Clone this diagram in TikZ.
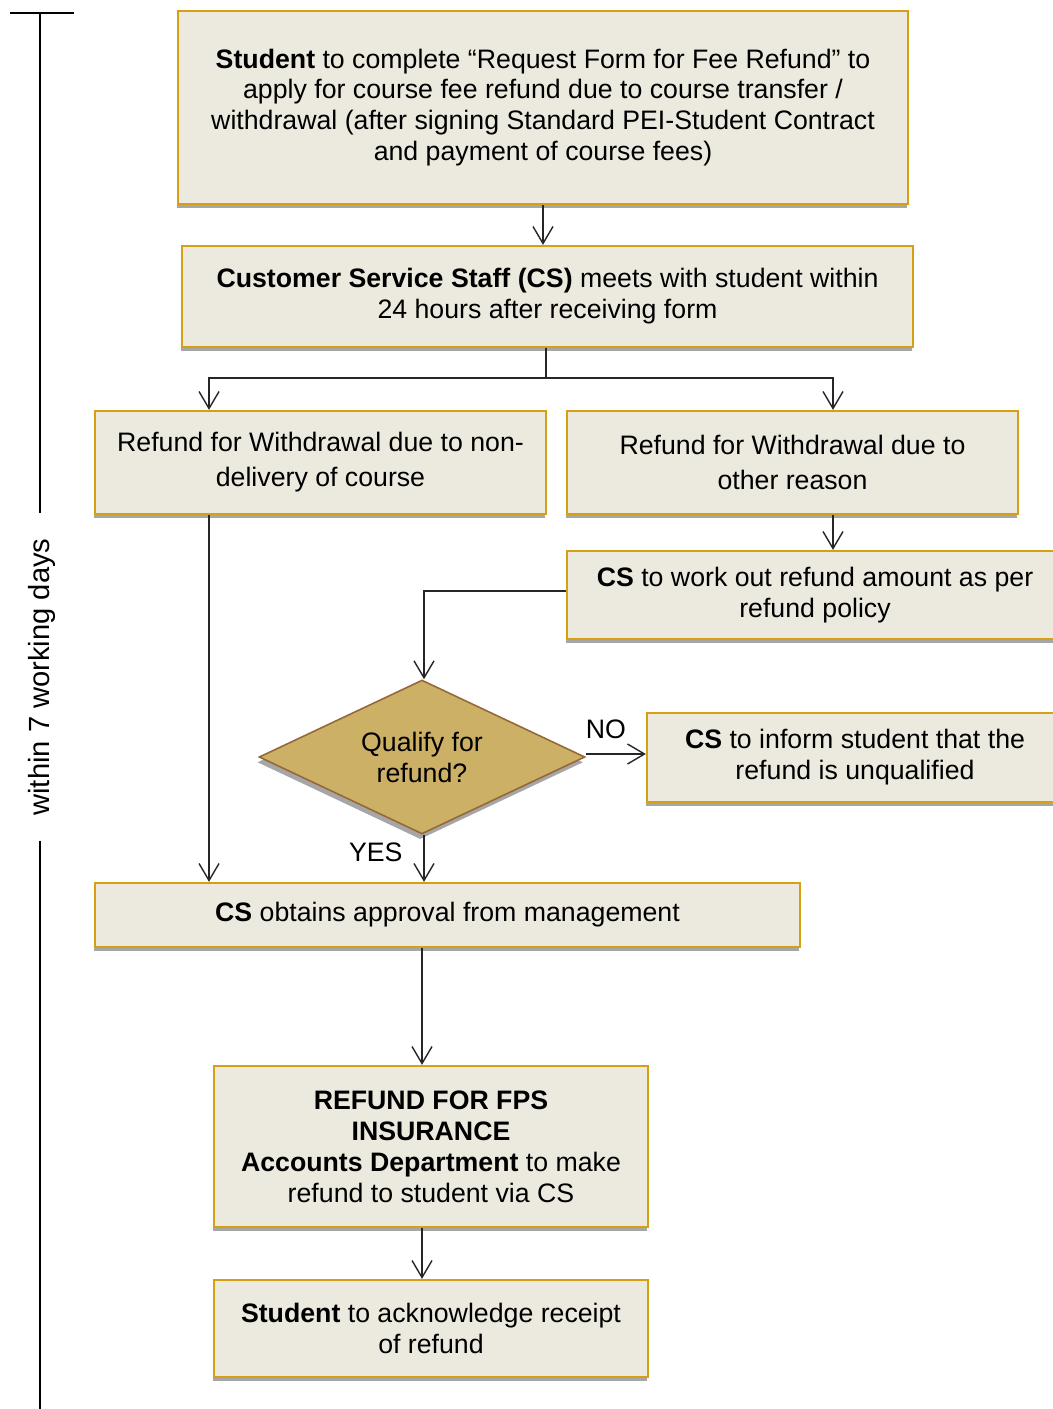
\documentclass[tikz,border=0pt]{standalone}
\usepackage{fontspec}
\setmainfont{Liberation Sans}
\usetikzlibrary{arrows.meta,shapes.geometric,shadows}
\definecolor{boxfill}{RGB}{236,234,223}
\definecolor{boxline}{RGB}{214,160,20}
\definecolor{boxshade}{RGB}{166,166,166}
\definecolor{qfill}{RGB}{204,176,102}
\definecolor{qline}{RGB}{150,104,56}
\definecolor{linkgray}{RGB}{38,38,38}
\tikzset{
  stepbox/.style={draw=boxline,line width=1.3pt,fill=boxfill,align=center,inner sep=0pt,
    drop shadow={shadow xshift=-0.6pt,shadow yshift=-2.4pt,fill=boxshade,opacity=1}},
  askbox/.style={diamond,shape aspect=2,draw=qline,line width=0.9pt,fill=qfill,align=center,inner sep=0pt,
    drop shadow={shadow xshift=-1pt,shadow yshift=-3pt,fill=boxshade,opacity=1}},
  link/.style={draw=linkgray,line width=0.8pt},
  timeline/.style={draw=black,line width=1.1pt}
}
\begin{document}
\begin{tikzpicture}[x=0.02cm,y=-0.02cm,>={Straight Barb[length=0.34cm,width=0.4cm]},
  font=\fontsize{15.2}{17.6}\selectfont]
  \useasboundingbox (0,0) rectangle (1052,1409);
  \node[stepbox,minimum width=14.6cm,minimum height=3.86cm] (req) at (543,107.5)
    {\textbf{Student} to complete “Request Form for Fee Refund” to\\apply for course fee refund due to course transfer /\\withdrawal (after signing Standard PEI-Student Contract\\and payment of course fees)};
  \node[stepbox,minimum width=14.62cm,minimum height=2.02cm] (meet) at (547.5,296.5)
    {\textbf{Customer Service Staff (CS)} meets with student within\\24 hours after receiving form};
  \node[stepbox,minimum width=9.02cm,minimum height=2.06cm,font=\fontsize{15.2}{20}\selectfont] (nondel) at (320.5,462.5)
    {Refund for Withdrawal due to non-\\delivery of course};
  \node[stepbox,minimum width=9.02cm,minimum height=2.06cm,font=\fontsize{15.2}{20}\selectfont] (other) at (792.5,462.5)
    {Refund for Withdrawal due to\\other reason};
  \node[stepbox,minimum width=9.92cm,minimum height=1.76cm] (work) at (815,595)
    {\textbf{CS} to work out refund amount as per\\refund policy};
  \node[askbox,minimum width=6.52cm,minimum height=3.08cm] (qual) at (422,757)
    {Qualify for\\refund?};
  \node[stepbox,minimum width=8.32cm,minimum height=1.78cm] (inform) at (855,757.5)
    {\textbf{CS} to inform student that the\\refund is unqualified};
  \node[stepbox,minimum width=14.1cm,minimum height=1.28cm] (approve) at (447.5,915)
    {\textbf{CS} obtains approval from management};
  \node[stepbox,minimum width=8.68cm,minimum height=3.22cm] (fps) at (431,1146.5)
    {\textbf{REFUND FOR FPS}\\\textbf{INSURANCE}\\\textbf{Accounts Department} to make\\refund to student via CS};
  \node[stepbox,minimum width=8.68cm,minimum height=1.94cm] (ack) at (431,1328.5)
    {\textbf{Student} to acknowledge receipt\\of refund};

  \coordinate (fork) at (546,378);
  \draw[link,->] (req) -- (req |- meet.north);
  \draw[link] (meet.south -| fork) -- (fork);
  \draw[link,->] (fork) -| ([xshift=-2.23cm]nondel.north);
  \draw[link,->] (fork) -| ([xshift=0.81cm]other.north);
  \draw[link,->] ([xshift=0.81cm]other.south) -- ([xshift=0.81cm]other.south |- work.north);
  \draw[link,->] ([xshift=-2.23cm]nondel.south) -- ([xshift=-2.23cm]nondel.south |- approve.north);
  \draw[link,->] ([yshift=0.08cm]work.west) -| ([xshift=0.04cm]qual.north);
  \draw[link,->] ([yshift=0.06cm]qual.east) -- ([yshift=0.06cm]qual.east -| inform.west)
    node[midway,above,xshift=-0.2cm,yshift=0.18cm] {NO};
  \draw[link,->] ([xshift=0.04cm]qual.south) -- ([xshift=0.04cm]qual.south |- approve.north)
    node[pos=0.38,left,xshift=-0.3cm] {YES};
  \draw[link,->] ([xshift=-0.18cm]fps.north |- approve.south) -- ([xshift=-0.18cm]fps.north);
  \draw[link,->] ([xshift=-0.18cm]fps.south) -- ([xshift=-0.18cm]ack.north);

  \node[rotate=90,inner xsep=0.5cm,inner ysep=0pt,font=\fontsize{16.6}{20}\selectfont] (span) at (42,677) {within 7 working days};
  \coordinate (spantop) at (40,13);
  \coordinate (spanend) at (40,1409);
  \draw[timeline] (10,13) -- (74,13);
  \draw[timeline] (spantop) -- (spantop |- span.east);
  \draw[timeline] (spanend |- span.west) -- (spanend);
\end{tikzpicture}
\end{document}
